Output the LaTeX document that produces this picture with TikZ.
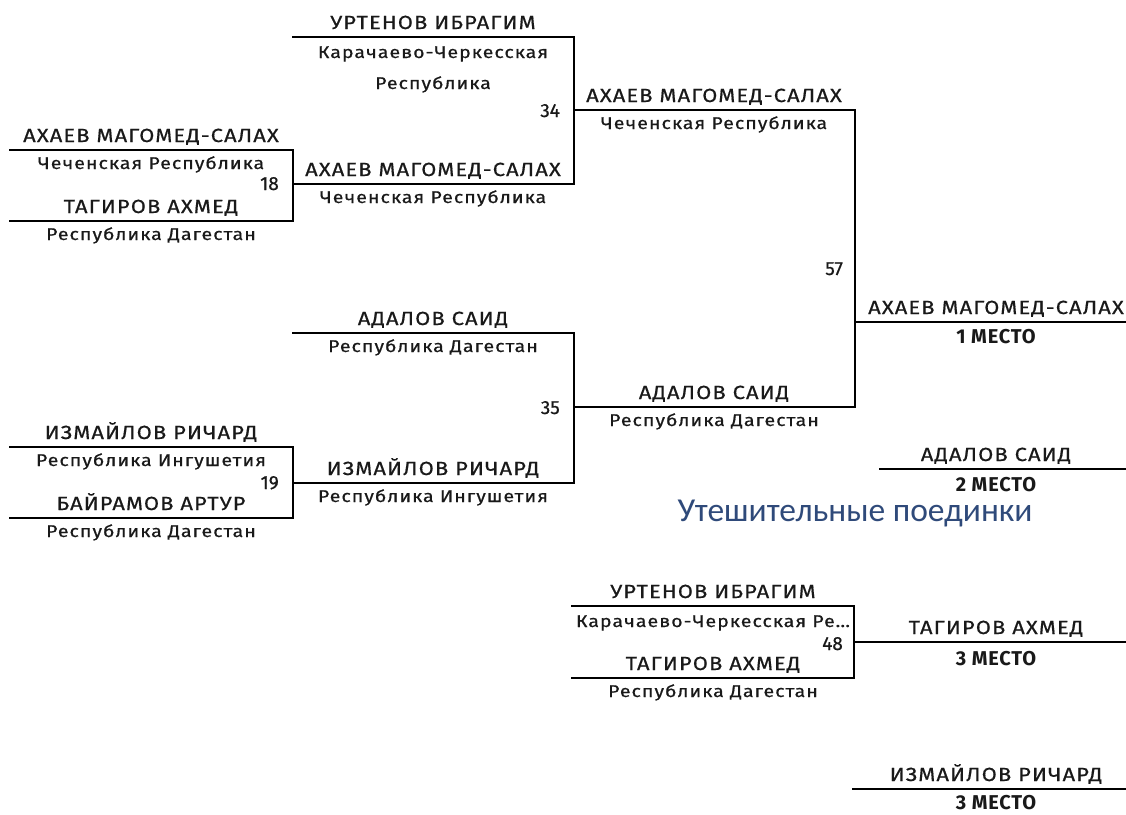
\documentclass[tikz,border=0pt]{standalone}
\usepackage{fontspec}
\setmainfont{Fira Sans}
\newfontfamily\namefont[LetterSpace=6,FakeStretch=1.15,FakeBold=0.6]{Fira Sans}
\newfontfamily\numfont[FakeBold=0.6]{Fira Sans}
\newfontfamily\placefont[LetterSpace=4]{Fira Sans}
\newfontfamily\titlefont{Carlito}
\definecolor{ttl}{RGB}{47,74,122}
\definecolor{ink}{RGB}{25,25,25}
\tikzset{
 bline/.style={line width=1.8pt, line cap=rect, black},
 nm/.style={anchor=base, inner sep=0pt, font=\namefont\fontsize{19}{22}\selectfont, text=ink},
 rg/.style={anchor=base, inner sep=0pt, font=\namefont\fontsize{17}{20}\selectfont, text=ink},
 num/.style={anchor=base east, inner sep=0pt, font=\numfont\fontsize{19}{22}\selectfont, text=ink},
 plc/.style={anchor=base, inner sep=0pt, font=\placefont\bfseries\fontsize{20}{24}\selectfont, text=ink},
 ttlst/.style={anchor=base, inner sep=0pt, font=\titlefont\fontsize{33.5}{40}\selectfont, text=ttl},
}
% id, x1, x2, y, xc, name, region
\newcommand{\slot}[7]{%
 \coordinate (#1l) at (#2,#4);
 \coordinate (#1r) at (#3,#4);
 \draw[bline] (#1l) -- (#1r);
 \node[nm] (#1n) at (#5,#4-8) {#6};
 \node[rg] (#1g) at (#5,#4+19) {#7};
}
\begin{document}
\begin{tikzpicture}[x=1pt,y=-1pt]
\useasboundingbox (0,0) rectangle (1126,814);
\clip (0,0) rectangle (1126,814);
\fill[white] (0,0) rectangle (1126,814);

% ---- match 18 ----
\slot{a}{10}{293}{150}{151}{АХАЕВ МАГОМЕД-САЛАХ}{Чеченская Республика}
\slot{b}{10}{293}{221}{151}{ТАГИРОВ АХМЕД}{Республика Дагестан}
\draw[bline] (ar) -- (br);
\node[num] (n18) at (279,190) {18};

% ---- match 19 ----
\slot{c}{10}{293}{447}{151}{ИЗМАЙЛОВ РИЧАРД}{Республика Ингушетия}
\slot{d}{10}{293}{518}{151}{БАЙРАМОВ АРТУР}{Республика Дагестан}
\draw[bline] (cr) -- (dr);
\node[num] (n19) at (279,489) {19};

% ---- match 34 ----
\coordinate (el) at (293,37);
\coordinate (er) at (574,37);
\draw[bline] (el) -- (er);
\node[nm] (en) at (433,29) {УРТЕНОВ ИБРАГИМ};
\node[rg] (eg) at (433,58) {Карачаево-Черкесская};
\node[rg] (eg2) at (433,89) {Республика};
\slot{f}{293}{574}{184}{433}{АХАЕВ МАГОМЕД-САЛАХ}{Чеченская Республика}
\draw[bline] (er) -- (fr);
\node[num] (n34) at (560,117) {34};

% ---- match 35 ----
\slot{g}{293}{574}{333}{433}{АДАЛОВ САИД}{Республика Дагестан}
\slot{h}{293}{574}{483}{433}{ИЗМАЙЛОВ РИЧАРД}{Республика Ингушетия}
\draw[bline] (gr) -- (hr);
\node[num] (n35) at (560,414) {35};

% ---- semifinal outputs ----
\slot{i}{574}{855}{110}{714}{АХАЕВ МАГОМЕД-САЛАХ}{Чеченская Республика}
\slot{j}{574}{855}{407}{714}{АДАЛОВ САИД}{Республика Дагестан}
\draw[bline] (ir) -- (jr);
\node[num] (n57) at (843,275) {57};

% ---- final ----
\coordinate (kl) at (855,322);
\coordinate (kr) at (1140,322);
\draw[bline] (kl) -- (kr);
\node[nm] (kn) at (996,314) {АХАЕВ МАГОМЕД-САЛАХ};
\node[plc] (kp) at (996,343) {1 МЕСТО};

% ---- second place ----
\coordinate (ll) at (880,469);
\coordinate (lr) at (1140,469);
\draw[bline] (ll) -- (lr);
\node[nm] (ln) at (996,461) {АДАЛОВ САИД};
\node[plc] (lp) at (996,491) {2 МЕСТО};

% ---- title ----
\node[ttlst] (ttl) at (855,521) {Утешительные поединки};

% ---- match 48 ----
\slot{m}{572}{854}{606}{713}{УРТЕНОВ ИБРАГИМ}{}
\node[rg] (mg) at (713,627) {Карачаево-Черкесская Ре…};
\slot{o}{572}{854}{678}{713}{ТАГИРОВ АХМЕД}{Республика Дагестан}
\draw[bline] (mr) -- (or);
\node[num] (n48) at (843,650) {48};
\coordinate (pl) at (854,642);
\coordinate (pr) at (1140,642);
\draw[bline] (pl) -- (pr);
\node[nm] (pn) at (996,634) {ТАГИРОВ АХМЕД};
\node[plc] (pp) at (996,665) {3 МЕСТО};

% ---- other third place ----
\coordinate (ql) at (853,789);
\coordinate (qr) at (1140,789);
\draw[bline] (ql) -- (qr);
\node[nm] (qn) at (996,781) {ИЗМАЙЛОВ РИЧАРД};
\node[plc] (qp) at (996,809) {3 МЕСТО};
\end{tikzpicture}
\end{document}
